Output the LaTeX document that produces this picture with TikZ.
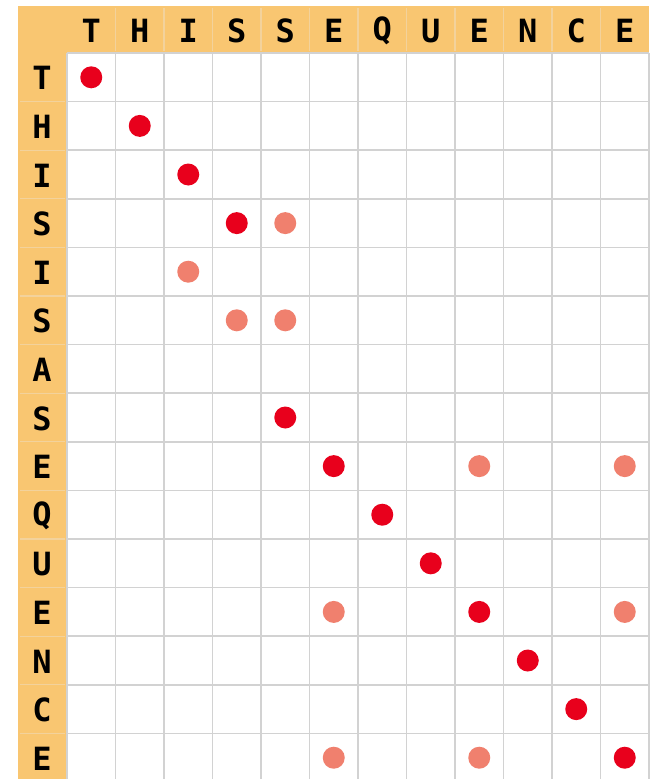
\documentclass[tikz,border=0pt]{standalone}
\usepackage{fontspec}
\newfontfamily\hdrfont{DejaVu Sans Mono}
\definecolor{hdr}{HTML}{F9C671}
\definecolor{hdrline}{HTML}{F3D29C}
\definecolor{gridc}{HTML}{D2D2D2}
\definecolor{dotdark}{HTML}{E8001C}
\definecolor{dotlight}{HTML}{F0806E}
\tikzset{
  lab/.style={font=\hdrfont\bfseries\fontsize{32}{33}\selectfont, text=black, inner sep=0pt, anchor=center},
  darkdot/.style={circle, fill=dotdark, draw=none, minimum size=22pt, inner sep=0pt},
  lightdot/.style={circle, fill=dotlight, draw=none, minimum size=22pt, inner sep=0pt},
  gridline/.style={draw=gridc, line width=1.5pt},
  hdrsep/.style={draw=hdrline, line width=1.2pt}
}
\begin{document}
\begin{tikzpicture}[x=1pt,y=-1pt]
\useasboundingbox (0,0) rectangle (652,779);
\fill[white] (0,0) rectangle (652,779);
\begin{scope}
\clip (0,0) rectangle (652,779);
% header bands
\fill[hdr] (18,6) rectangle (649,53);
\fill[hdr] (18,6) rectangle (67,785);
% header separators
\foreach \i in {1,...,11} \draw[hdrsep] ({67+48.5*\i},8) -- ({67+48.5*\i},51);
\foreach \j in {1,...,14} \draw[hdrsep] (20,{53+48.6*\j}) -- (65,{53+48.6*\j});
% grid
\foreach \i in {0,...,12} \draw[gridline] ({67+48.5*\i},53) -- ({67+48.5*\i},785);
\foreach \j in {0,...,15} \draw[gridline] (67,{53+48.6*\j}) -- (649,{53+48.6*\j});
% column letters
\foreach \l [count=\i] in {T,H,I,S,S,E,Q,U,E,N,C,E}
  \node[lab] (col\i) at ({67+48.5*(\i-0.5)},31) {\l};
% row letters
\foreach \l [count=\j] in {T,H,I,S,I,S,A,S,E,Q,U,E,N,C,E}
  \node[lab] (row\j) at (42,{53+48.6*(\j-0.5)+1}) {\l};
% dark dots (row/col)
\foreach \r/\c in {1/1,2/2,3/3,4/4,8/5,9/6,10/7,11/8,12/9,13/10,14/11,15/12}
  \node[darkdot] (dk\r-\c) at ({67+48.5*(\c-0.5)},{53+48.6*(\r-0.5)}) {};
% light dots
\foreach \r/\c in {4/5,5/3,6/4,6/5,9/9,9/12,12/6,12/12,15/6,15/9}
  \node[lightdot] (lt\r-\c) at ({67+48.5*(\c-0.5)},{53+48.6*(\r-0.5)}) {};
\end{scope}
\end{tikzpicture}
\end{document}
